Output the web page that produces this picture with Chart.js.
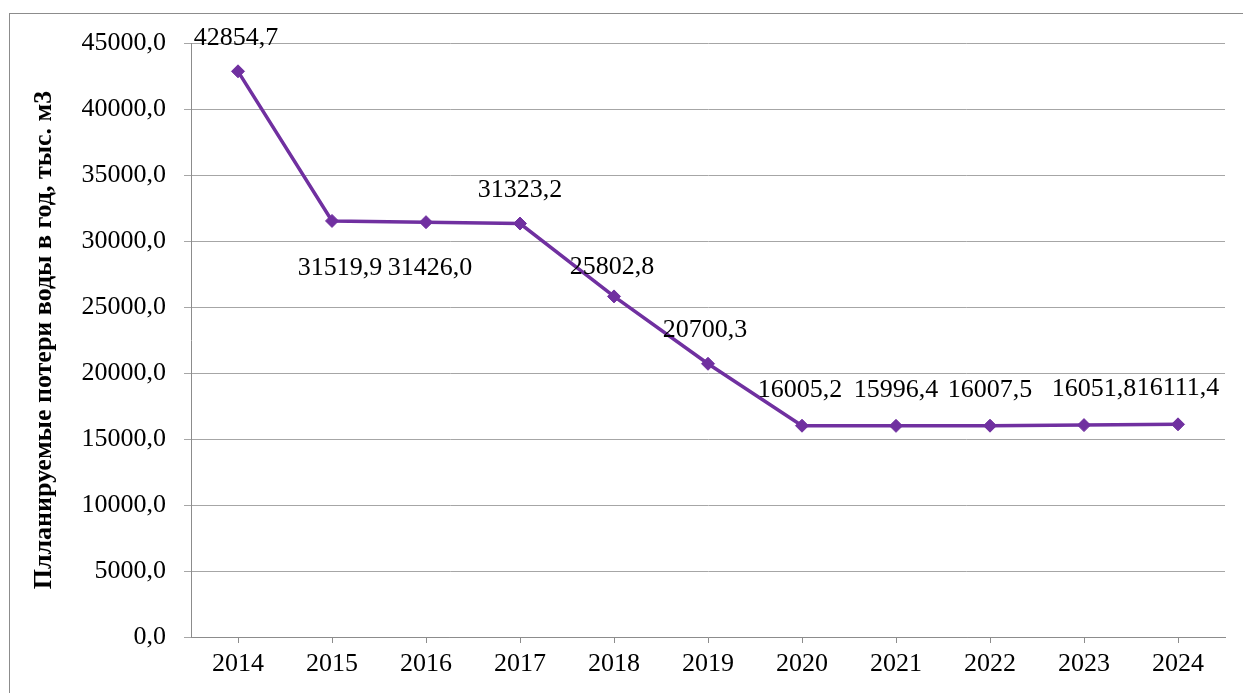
<!DOCTYPE html>
<html>
<head>
<meta charset="utf-8">
<script src="https://cdn.jsdelivr.net/npm/chart.js@4.4.1/dist/chart.umd.min.js"></script>
<style>
  html, body { margin: 0; padding: 0; background: #fff; }
  #wrap { width: 1243px; height: 693px; }
</style>
</head>
<body>
<div id="wrap"><canvas id="grafico" width="1243" height="693"></canvas></div>
<script>
// данные
const годы = ['2014', '2015', '2016', '2017', '2018', '2019', '2020', '2021', '2022', '2023', '2024'];
const потери = [42854.7, 31519.9, 31426.0, 31323.2, 25802.8, 20700.3, 16005.2, 15996.4, 16007.5, 16051.8, 16111.4];
const шкалаY = { min: 0, max: 45000, step: 5000 };
const подписьОси = 'Плланируемые потери воды в год, тыс. м3';

// смещения подписей значений относительно точек (px)
const смещенияПодписей = [
    [-2, -33], [8, 47], [4, 46], [0, -33], [-2, -29], [-3, -34],
    [-2, -36], [0, -36], [0, -36], [10, -36], [0, -36]
];

const шрифт = "'Liberation Serif', 'Times New Roman', serif";
const цвет = '#7030A0';

function формат(v) {
    return v.toFixed(1).replace('.', ',');
}

// рамка вокруг диаграммы и подписи данных
const рамкаИПодписи = {
    id: 'рамкаИПодписи',
    beforeDraw(chart) {
        const c = chart.ctx;
        c.save();
        c.strokeStyle = '#8c8c8c';
        c.lineWidth = 1;
        c.strokeRect(9.5, 13.5, 1400, 800);
        c.restore();
    },
    afterDatasetsDraw(chart) {
        const c = chart.ctx;
        const meta = chart.getDatasetMeta(0);
        c.save();
        c.font = '26px ' + шрифт;
        c.fillStyle = '#000';
        c.textAlign = 'center';
        c.textBaseline = 'middle';
        meta.data.forEach((pt, i) => {
            const [dx, dy] = смещенияПодписей[i];
            c.fillText(формат(потери[i]), pt.x + dx, pt.y + dy);
        });
        c.restore();
    }
};

const ctx = document.getElementById('grafico').getContext('2d');
new Chart(ctx, {
    type: 'line',
    data: {
        labels: годы,
        datasets: [{
            data: потери,
            borderColor: цвет,
            backgroundColor: цвет,
            borderWidth: 3.5,
            pointStyle: 'rectRot',
            pointRadius: 6.5,
            pointBorderWidth: 1,
            pointBackgroundColor: цвет,
            pointBorderColor: цвет,
            tension: 0,
            fill: false
        }]
    },
    options: {
        responsive: false,
        animation: false,
        devicePixelRatio: 1,
        layout: { padding: { top: 43, right: 18, bottom: 0, left: 0 } },
        plugins: {
            legend: { display: false },
            tooltip: { enabled: false }
        },
        scales: {
            x: {
                offset: true,
                grid: {
                    display: true,
                    drawOnChartArea: false,
                    drawTicks: true,
                    tickLength: 6,
                    color: '#8c8c8c'
                },
                border: { color: '#8c8c8c' },
                ticks: {
                    color: '#000',
                    padding: 6,
                    font: { family: шрифт, size: 26 }
                },
                afterFit(scale) { scale.height = 56; }
            },
            y: {
                min: шкалаY.min,
                max: шкалаY.max,
                grid: {
                    color: '#a6a6a6',
                    tickLength: 7,
                    drawTicks: true
                },
                border: { color: '#8c8c8c' },
                ticks: {
                    stepSize: шкалаY.step,
                    color: '#000',
                    padding: 18,
                    font: { family: шрифт, size: 26 },
                    callback: v => формат(v)
                },
                title: {
                    display: true,
                    text: подписьОси,
                    color: '#000',
                    padding: { top: 29, bottom: 0 },
                    font: { family: шрифт, size: 26, weight: 'bold' }
                },
                afterFit(scale) { scale.width = 191; }
            }
        }
    },
    plugins: [рамкаИПодписи]
});
</script>
</body>
</html>
